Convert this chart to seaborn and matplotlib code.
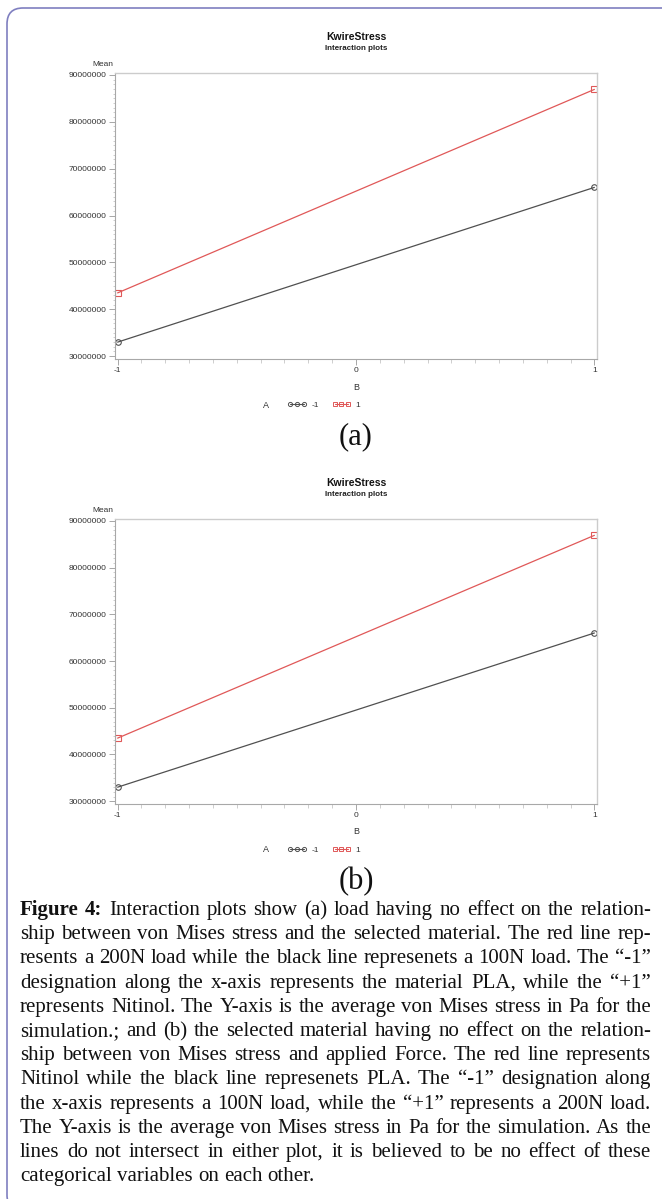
import pandas as pd
import matplotlib
matplotlib.use("Agg")
import matplotlib.pyplot as plt
import seaborn as sns
from matplotlib.lines import Line2D
from matplotlib.patches import FancyBboxPatch
from matplotlib.transforms import IdentityTransform
from matplotlib.ticker import MultipleLocator, FuncFormatter

# ---- data ----
b_levels = [-1, 1]
a_levels = ["-1", "1"]
mean_a_neg = [33000000, 66000000]   # A = -1 (black)
mean_a_pos = [43500000, 86900000]   # A = 1 (red)
y_ticks = [30000000, 40000000, 50000000, 60000000, 70000000, 80000000, 90000000]
x_ticks = [-1, 0, 1]

caption_lines = [
    "Figure 4: Interaction plots show (a) load having no effect on the relation-",
    "ship between von Mises stress and the selected material. The red line rep-",
    "resents a 200N load while the black line represenets a 100N load.  The \u201c-1\u201d",
    "designation along the x-axis represents the material PLA, while the \u201c+1\u201d",
    "represents Nitinol.  The Y-axis is the average von Mises stress in Pa for the",
    "simulation.; and (b) the selected material having no effect on the relation-",
    "ship between von Mises stress and applied Force. The red line represents",
    "Nitinol while the black line represenets PLA. The \u201c-1\u201d designation along",
    "the x-axis represents a 100N load, while the \u201c+1\u201d represents a 200N load.",
    "The Y-axis is the average von Mises stress in Pa for the simulation. As the",
    "lines do not intersect in either plot, it is believed to be no effect of these",
    "categorical variables on each other.",
]

W, H = 662, 1199
BLACK = "#505050"
RED = "#e05858"
SANS = "Liberation Sans"
SERIF = "Liberation Serif"

sns.set_style("white")
plt.rcParams["font.family"] = [SANS, "DejaVu Sans"]
plt.rcParams["axes.unicode_minus"] = False

fig = plt.figure(figsize=(W / 100, H / 100), dpi=100)


def fx(px):
    return px / W


def fy(py):
    return 1 - py / H


# rounded frame round the whole figure block
frame = FancyBboxPatch((7, -12), 720, H - 8 + 12,
                       boxstyle="round,pad=0,rounding_size=16",
                       transform=IdentityTransform(), fill=False,
                       edgecolor="#7f7fc0", lw=1.2)
fig.add_artist(frame)


def draw_panel(top, bottom, tag):
    ax = fig.add_axes([fx(115), fy(bottom), fx(597) - fx(115), (bottom - top) / H])
    df = pd.DataFrame({
        "B": b_levels * 2,
        "A": [a_levels[0]] * 2 + [a_levels[1]] * 2,
        "Mean": mean_a_neg + mean_a_pos,
    })
    sns.lineplot(data=df, x="B", y="Mean", hue="A", style="A",
                 markers={"-1": "o", "1": "s"}, dashes=False,
                 palette={"-1": BLACK, "1": RED}, lw=0.9, ms=4,
                 legend=False, ax=ax)
    for ln in ax.lines:
        c = ln.get_color()
        ln.set_markerfacecolor("none")
        ln.set_markeredgecolor(c)
        ln.set_markeredgewidth(0.8)

    ax.set_xlim(-1.011, 1.011)
    ax.set_ylim(29400000, 90400000)
    ax.set_xticks(x_ticks)
    ax.set_yticks(y_ticks)
    ax.xaxis.set_minor_locator(MultipleLocator(0.1))
    ax.yaxis.set_minor_locator(MultipleLocator(1000000))
    ax.yaxis.set_major_formatter(FuncFormatter(lambda v, p: f"{v:.0f}"))
    ax.set_xlabel("")
    ax.set_ylabel("")
    for s in ["left", "bottom"]:
        ax.spines[s].set_color("#a8a8a8")
        ax.spines[s].set_linewidth(0.8)
    for s in ["top", "right"]:
        ax.spines[s].set_color("#cccccc")
        ax.spines[s].set_linewidth(1.0)
    ax.tick_params(which="major", direction="out", length=4, width=0.6,
                   color="#999999", labelsize=6, labelcolor="#333333", pad=2)
    ax.tick_params(axis="y", which="minor", direction="out", length=1.8,
                   width=0.5, color="#bbbbbb")
    ax.tick_params(axis="x", which="minor", direction="out", length=3,
                   width=0.5, color="#bbbbbb")
    ax.tick_params(axis="both", which="both", bottom=True, left=True)

    fig.text(fx(356), fy(top - 36), "KwireStress", ha="center", va="center",
             fontsize=7.5, fontweight="bold", color="#111111")
    fig.text(fx(356), fy(top - 25), "Interaction plots", ha="center", va="center",
             fontsize=5.8, fontweight="bold", color="#222222")
    fig.text(fx(113), fy(top - 9), "Mean", ha="right", va="center",
             fontsize=6, color="#333333")
    fig.text(fx(356), fy(bottom + 28), "B", ha="center", va="center",
             fontsize=6.5, color="#333333")
    fig.text(fx(266), fy(bottom + 46), "A", ha="center", va="center",
             fontsize=6.5, color="#333333")
    handles = [
        Line2D([], [], color=BLACK, marker="o", mfc="none", mec=BLACK, ms=3, lw=0.8, mew=0.7),
        Line2D([], [], color=RED, marker="s", mfc="none", mec=RED, ms=3, lw=0.8, mew=0.7),
    ]
    fig.legend(handles, a_levels, loc="center", ncol=2, frameon=False,
               bbox_to_anchor=(fx(324), fy(bottom + 46)), numpoints=3,
               handlelength=2.2, handletextpad=0.6, columnspacing=1.6,
               prop={"family": SANS, "size": 6}, labelcolor="#333333")
    fig.text(fx(356), fy(bottom + 78), tag, ha="center", va="center",
             fontsize=22, family=SERIF, color="#111111")


draw_panel(73, 359, "(a)")
draw_panel(519, 804, "(b)")

# justified caption, word by word, on a common baseline per line
renderer = fig.canvas.get_renderer()
x_left, x_right = 20, 651
y0, dy = 915, 24.2
size = 15.0
for i, line in enumerate(caption_lines):
    words = line.split()
    arts = []
    for j, w in enumerate(words):
        bold = i == 0 and j < 2
        t = fig.text(0, fy(y0 + i * dy), w, ha="left", va="baseline",
                     fontsize=size, family=SERIF, color="#111111",
                     fontweight="bold" if bold else "normal")
        arts.append(t)
    widths = [a.get_window_extent(renderer).width for a in arts]
    if i == len(caption_lines) - 1:
        space = size * 100 / 72 * 0.25
    else:
        space = (x_right - x_left - sum(widths)) / (len(words) - 1)
    x = x_left
    for a, wd in zip(arts, widths):
        a.set_x(fx(x))
        x += wd + space

plt.savefig("out.png", dpi=100)
print("saved out.png")
